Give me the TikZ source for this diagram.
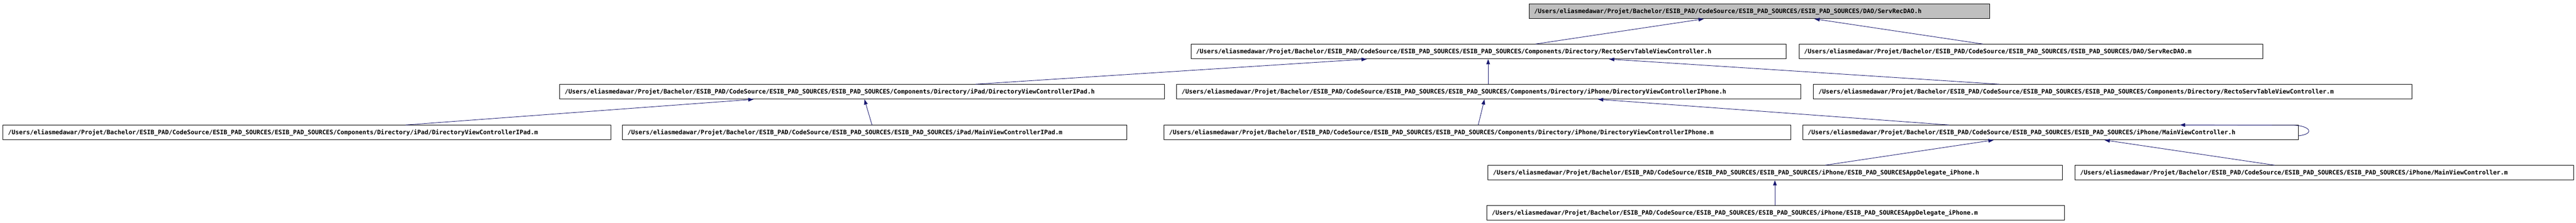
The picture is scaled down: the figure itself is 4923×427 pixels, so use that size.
\documentclass[tikz,border=0pt]{standalone}
\usepackage{fontspec}
\usetikzlibrary{arrows.meta}
\newfontfamily\boxfont{DejaVu Sans Mono}
\definecolor{edgeblue}{HTML}{191970}
\definecolor{nodegray}{HTML}{BFBFBF}
\tikzset{
  filebox/.style={draw=black, line width=0.9pt, fill=white, anchor=north west,
    minimum height=28pt, inner ysep=0pt, inner xsep=10pt, align=left,
    font=\boxfont\bfseries\fontsize{11.6}{12}\selectfont},
  edge/.style={draw=edgeblue, line width=0.9pt, -{Triangle[length=10pt,width=7pt]}},
}
\newcommand{\pre}{/Users/eliasmedawar/Projet/Bachelor/ESIB\_PAD/CodeSource/ESIB\_PAD\_SOURCES/ESIB\_PAD\_SOURCES/}
\begin{document}
\begin{tikzpicture}[x=1pt,y=-1pt]
\useasboundingbox (0,0) rectangle (4923,427);
% row 1
\node[filebox, fill=nodegray, text width=860.4pt] (A) at (2921.6,7.3) {\pre DAO/ServRecDAO.h};
% row 2
\node[filebox, text width=1117.5pt] (B) at (2275.5,84.3) {\pre Components/Directory/RectoServTableViewController.h};
\node[filebox, text width=866pt] (C) at (3437.5,84.3) {\pre DAO/ServRecDAO.m};
% row 3
\node[filebox, text width=1136pt] (D) at (1069,161.3) {\pre Components/Directory/iPad/DirectoryViewControllerIPad.h};
\node[filebox, text width=1173pt] (E) at (2248,161.3) {\pre Components/Directory/iPhone/DirectoryViewControllerIPhone.h};
\node[filebox, text width=1123.6pt] (F) at (3465,161.3) {\pre Components/Directory/RectoServTableViewController.m};
% row 4
\node[filebox, text width=1142pt] (G) at (5,239.3) {\pre Components/Directory/iPad/DirectoryViewControllerIPad.m};
\node[filebox, text width=944pt] (H) at (1189,239.3) {\pre iPad/MainViewControllerIPad.m};
\node[filebox, text width=1177.5pt] (I) at (2224,239.3) {\pre Components/Directory/iPhone/DirectoryViewControllerIPhone.m};
\node[filebox, text width=927.3pt] (J) at (3444.5,239.3) {\pre iPhone/MainViewController.h};
% row 5
\node[filebox, text width=1078pt] (K) at (2843,316.3) {\pre iPhone/ESIB\_PAD\_SOURCESAppDelegate\_iPhone.h};
\node[filebox, text width=933pt] (L) at (3965,316.3) {\pre iPhone/MainViewController.m};
% row 6
\node[filebox, text width=1083.9pt] (M) at (2840.6,393.3) {\pre iPhone/ESIB\_PAD\_SOURCESAppDelegate\_iPhone.m};
% edges
\draw[edge] ([xshift=659pt]B.north west) -- ([xshift=334.4pt]A.south west);
\draw[edge] ([xshift=352pt]C.north west) -- ([xshift=546pt]A.south west);
\draw[edge] ([xshift=795pt]D.north west) -- ([xshift=336.5pt]B.south west);
\draw[edge] ([xshift=596pt]E.north west) -- ([xshift=568.5pt]B.south west);
\draw[edge] ([xshift=356.4pt]F.north west) -- ([xshift=799.5pt]B.south west);
\draw[edge] ([xshift=770pt]G.north west) -- ([xshift=371pt]D.south west);
\draw[edge] ([xshift=477.5pt]H.north west) -- ([xshift=583pt]D.south west);
\draw[edge] ([xshift=601pt]I.north west) -- ([xshift=589pt]E.south west);
\draw[edge] ([xshift=280.5pt]J.north west) -- ([xshift=806pt]E.south west);
\draw[edge] ([xshift=645pt]K.north west) -- ([xshift=365.5pt]J.south west);
\draw[edge] ([xshift=382pt]L.north west) -- ([xshift=577.5pt]J.south west);
\draw[edge] ([xshift=551.4pt]M.north west) -- ([xshift=549pt]K.south west);
% self loop
\draw[edge] ([yshift=-20.7pt]J.north east)
  .. controls ([xshift=32pt,yshift=-17pt]J.north east) and ([xshift=22pt,yshift=-2pt]J.north east)
  .. ([xshift=-8pt,yshift=-0.5pt]J.north east) -- ([xshift=-226.8pt]J.north east);
\end{tikzpicture}
\end{document}
